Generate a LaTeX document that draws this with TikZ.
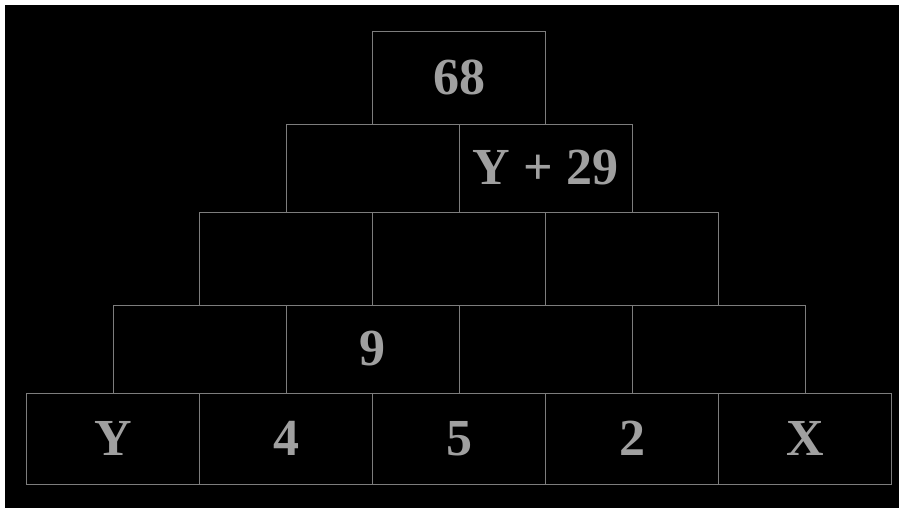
\documentclass[tikz,border=0pt]{standalone}
\usepackage{fontspec}
\setmainfont{Liberation Serif}
\definecolor{linegray}{RGB}{125,125,125}
\definecolor{numgray}{RGB}{160,160,160}
\begin{document}
\begin{tikzpicture}[
  x=1pt, y=-1pt,
  cell/.style={rectangle, draw=linegray, line width=0.9pt, minimum width=173pt, inner sep=0pt},
  number/.style={text=numgray, font=\fontsize{52}{60}\selectfont\bfseries, inner sep=0pt}
]
\useasboundingbox (0,0) rectangle (899,508);
\fill[white] (0,0) rectangle (899,508);
\fill[black] (5,5) rectangle (899,508);
% pyramid rows: row/top/bottom
\foreach \r/\t/\b in {1/31/124, 2/124/212, 3/212/305, 4/305/393, 5/393/484} {
  \pgfmathsetmacro\h{\b-\t}
  \foreach \c in {1,...,\r} {
    \node[cell, minimum height=\h pt] (c\r\c) at ({459 - \r*86.5 + (\c-0.5)*173}, {(\t+\b)/2}) {};
  }
}
\node[number] (top) at (c11) {68};
\node[number] (ysum) at (c22) {Y + 29};
\node[number] (nine) at (c42) {9};
\node[number] (y) at (c51) {Y};
\node[number] (four) at (c52) {4};
\node[number] (five) at (c53) {5};
\node[number] (two) at (c54) {2};
\node[number] (x) at (c55) {X};
\end{tikzpicture}
\end{document}
